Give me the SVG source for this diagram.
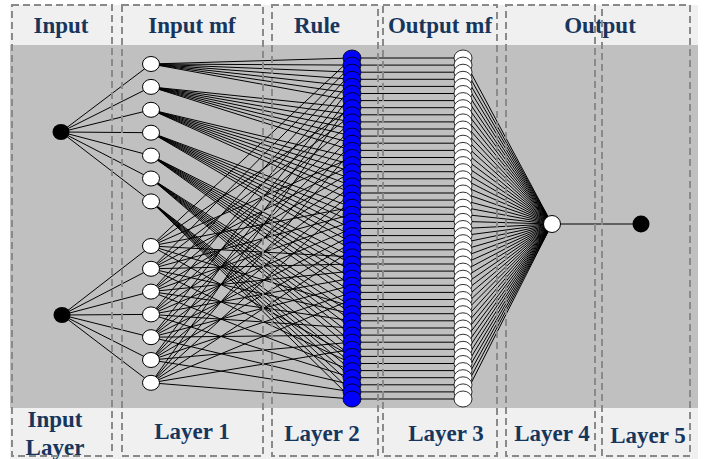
<svg xmlns="http://www.w3.org/2000/svg" width="706" height="459" viewBox="0 0 706 459">
<style>
.lbl{font-family:"Liberation Serif","Times New Roman",serif;font-weight:bold;font-size:23px;fill:#17365d;text-anchor:middle}
.box{fill:none;stroke:#8a8a8a;stroke-width:2;stroke-dasharray:7 4}
.cn{fill:none;stroke:#000;stroke-width:1}
.mf{fill:#fff;stroke:#000;stroke-width:1;rx:8.5px;ry:7.5px}
.rn{fill:#0000ff;stroke:#000;stroke-width:0.8;rx:9px;ry:8px}
.on{fill:#fff;stroke:#000;stroke-width:0.8;rx:9px;ry:8px}
.inp{fill:#000;rx:8.5px;ry:8px}
</style>
<rect x="10" y="5" width="688" height="454" fill="#f0f0f0"/>
<rect x="10" y="45" width="688" height="363" fill="#c0c0c0"/>
<g id="connectors" class="cn">
<path d="M61 132L151 64M61 132L151 86.9M61 132L151 109.8M61 132L151 132.7M61 132L151 155.6M61 132L151 178.5M61 132L151 201.4"/>
<path d="M62 315L151 246M62 315L151 268.8M62 315L151 291.6M62 315L151 314.4M62 315L151 337.2M62 315L151 360M62 315L151 382.8"/>
<path d="M151 64L352 58M151 64L352 65.1M151 64L352 72.2M151 64L352 79.3M151 64L352 86.4M151 64L352 93.5M151 64L352 100.6
M151 86.9L352 107.7M151 86.9L352 114.8M151 86.9L352 121.9M151 86.9L352 129M151 86.9L352 136.1M151 86.9L352 143.2M151 86.9L352 150.4
M151 109.8L352 157.5M151 109.8L352 164.6M151 109.8L352 171.7M151 109.8L352 178.8M151 109.8L352 185.9M151 109.8L352 193M151 109.8L352 200.1
M151 132.7L352 207.2M151 132.7L352 214.3M151 132.7L352 221.4M151 132.7L352 228.5M151 132.7L352 235.6M151 132.7L352 242.7M151 132.7L352 249.8
M151 155.6L352 256.9M151 155.6L352 264M151 155.6L352 271.1M151 155.6L352 278.2M151 155.6L352 285.3M151 155.6L352 292.4M151 155.6L352 299.5
M151 178.5L352 306.6M151 178.5L352 313.7M151 178.5L352 320.8M151 178.5L352 328M151 178.5L352 335.1M151 178.5L352 342.2M151 178.5L352 349.3
M151 201.4L352 356.4M151 201.4L352 363.5M151 201.4L352 370.6M151 201.4L352 377.7M151 201.4L352 384.8M151 201.4L352 391.9M151 201.4L352 399"/>
<path d="M151 246L352 58M151 246L352 107.7M151 246L352 157.5M151 246L352 207.2M151 246L352 256.9M151 246L352 306.6M151 246L352 356.4
M151 268.8L352 65.1M151 268.8L352 114.8M151 268.8L352 164.6M151 268.8L352 214.3M151 268.8L352 264M151 268.8L352 313.7M151 268.8L352 363.5
M151 291.6L352 72.2M151 291.6L352 121.9M151 291.6L352 171.7M151 291.6L352 221.4M151 291.6L352 271.1M151 291.6L352 320.8M151 291.6L352 370.6
M151 314.4L352 79.3M151 314.4L352 129M151 314.4L352 178.8M151 314.4L352 228.5M151 314.4L352 278.2M151 314.4L352 328M151 314.4L352 377.7
M151 337.2L352 86.4M151 337.2L352 136.1M151 337.2L352 185.9M151 337.2L352 235.6M151 337.2L352 285.3M151 337.2L352 335.1M151 337.2L352 384.8
M151 360L352 93.5M151 360L352 143.2M151 360L352 193M151 360L352 242.7M151 360L352 292.4M151 360L352 342.2M151 360L352 391.9
M151 382.8L352 100.6M151 382.8L352 150.4M151 382.8L352 200.1M151 382.8L352 249.8M151 382.8L352 299.5M151 382.8L352 349.3M151 382.8L352 399"/>
<path d="M352 58H463M352 65.1H463M352 72.2H463M352 79.3H463M352 86.4H463M352 93.5H463M352 100.6H463M352 107.7H463M352 114.8H463M352 121.9H463M352 129H463M352 136.1H463M352 143.2H463M352 150.4H463M352 157.5H463M352 164.6H463M352 171.7H463M352 178.8H463M352 185.9H463M352 193H463M352 200.1H463M352 207.2H463M352 214.3H463M352 221.4H463M352 228.5H463M352 235.6H463M352 242.7H463M352 249.8H463M352 256.9H463M352 264H463M352 271.1H463M352 278.2H463M352 285.3H463M352 292.4H463M352 299.5H463M352 306.6H463M352 313.7H463M352 320.8H463M352 328H463M352 335.1H463M352 342.2H463M352 349.3H463M352 356.4H463M352 363.5H463M352 370.6H463M352 377.7H463M352 384.8H463M352 391.9H463M352 399H463"/>
<path d="M463 58L552 224M463 65.1L552 224M463 72.2L552 224M463 79.3L552 224M463 86.4L552 224M463 93.5L552 224M463 100.6L552 224M463 107.7L552 224M463 114.8L552 224M463 121.9L552 224M463 129L552 224M463 136.1L552 224M463 143.2L552 224M463 150.4L552 224M463 157.5L552 224M463 164.6L552 224M463 171.7L552 224M463 178.8L552 224M463 185.9L552 224M463 193L552 224M463 200.1L552 224M463 207.2L552 224M463 214.3L552 224M463 221.4L552 224M463 228.5L552 224M463 235.6L552 224M463 242.7L552 224M463 249.8L552 224M463 256.9L552 224M463 264L552 224M463 271.1L552 224M463 278.2L552 224M463 285.3L552 224M463 292.4L552 224M463 299.5L552 224M463 306.6L552 224M463 313.7L552 224M463 320.8L552 224M463 328L552 224M463 335.1L552 224M463 342.2L552 224M463 349.3L552 224M463 356.4L552 224M463 363.5L552 224M463 370.6L552 224M463 377.7L552 224M463 384.8L552 224M463 391.9L552 224M463 399L552 224"/>
<path d="M552 224H641"/>
</g>
<g id="labels">
<text class="lbl" x="61" y="33">Input</text>
<text class="lbl" x="192" y="33">Input mf</text>
<text class="lbl" x="317" y="33">Rule</text>
<text class="lbl" x="440" y="33">Output mf</text>
<text class="lbl" x="600" y="33">Output</text>
<text class="lbl" x="55" y="427">Input</text>
<text class="lbl" x="55" y="455">Layer</text>
<text class="lbl" x="192" y="439">Layer 1</text>
<text class="lbl" x="322" y="441">Layer 2</text>
<text class="lbl" x="446" y="441">Layer 3</text>
<text class="lbl" x="552" y="441">Layer 4</text>
<text class="lbl" x="648" y="443">Layer 5</text>
</g>
<g id="columns">
<rect class="box" x="12" y="5" width="100" height="451"/>
<rect class="box" x="122" y="5" width="141" height="451"/>
<rect class="box" x="272" y="5" width="106" height="451"/>
<rect class="box" x="383" y="5" width="114" height="451"/>
<rect class="box" x="506" y="5" width="89" height="451"/>
<rect class="box" x="602" y="5" width="88" height="451"/>
</g>
<g id="in1"><ellipse class="inp" cx="61" cy="132"/></g>
<g id="in2"><ellipse class="inp" cx="62" cy="315"/></g>
<g id="mf1_1"><ellipse class="mf" cx="151" cy="64"/></g>
<g id="mf1_2"><ellipse class="mf" cx="151" cy="86.9"/></g>
<g id="mf1_3"><ellipse class="mf" cx="151" cy="109.8"/></g>
<g id="mf1_4"><ellipse class="mf" cx="151" cy="132.7"/></g>
<g id="mf1_5"><ellipse class="mf" cx="151" cy="155.6"/></g>
<g id="mf1_6"><ellipse class="mf" cx="151" cy="178.5"/></g>
<g id="mf1_7"><ellipse class="mf" cx="151" cy="201.4"/></g>
<g id="mf2_1"><ellipse class="mf" cx="151" cy="246"/></g>
<g id="mf2_2"><ellipse class="mf" cx="151" cy="268.8"/></g>
<g id="mf2_3"><ellipse class="mf" cx="151" cy="291.6"/></g>
<g id="mf2_4"><ellipse class="mf" cx="151" cy="314.4"/></g>
<g id="mf2_5"><ellipse class="mf" cx="151" cy="337.2"/></g>
<g id="mf2_6"><ellipse class="mf" cx="151" cy="360"/></g>
<g id="mf2_7"><ellipse class="mf" cx="151" cy="382.8"/></g>
<g id="rule1"><ellipse class="rn" cx="352" cy="58"/></g>
<g id="rule2"><ellipse class="rn" cx="352" cy="65.1"/></g>
<g id="rule3"><ellipse class="rn" cx="352" cy="72.2"/></g>
<g id="rule4"><ellipse class="rn" cx="352" cy="79.3"/></g>
<g id="rule5"><ellipse class="rn" cx="352" cy="86.4"/></g>
<g id="rule6"><ellipse class="rn" cx="352" cy="93.5"/></g>
<g id="rule7"><ellipse class="rn" cx="352" cy="100.6"/></g>
<g id="rule8"><ellipse class="rn" cx="352" cy="107.7"/></g>
<g id="rule9"><ellipse class="rn" cx="352" cy="114.8"/></g>
<g id="rule10"><ellipse class="rn" cx="352" cy="121.9"/></g>
<g id="rule11"><ellipse class="rn" cx="352" cy="129"/></g>
<g id="rule12"><ellipse class="rn" cx="352" cy="136.1"/></g>
<g id="rule13"><ellipse class="rn" cx="352" cy="143.2"/></g>
<g id="rule14"><ellipse class="rn" cx="352" cy="150.4"/></g>
<g id="rule15"><ellipse class="rn" cx="352" cy="157.5"/></g>
<g id="rule16"><ellipse class="rn" cx="352" cy="164.6"/></g>
<g id="rule17"><ellipse class="rn" cx="352" cy="171.7"/></g>
<g id="rule18"><ellipse class="rn" cx="352" cy="178.8"/></g>
<g id="rule19"><ellipse class="rn" cx="352" cy="185.9"/></g>
<g id="rule20"><ellipse class="rn" cx="352" cy="193"/></g>
<g id="rule21"><ellipse class="rn" cx="352" cy="200.1"/></g>
<g id="rule22"><ellipse class="rn" cx="352" cy="207.2"/></g>
<g id="rule23"><ellipse class="rn" cx="352" cy="214.3"/></g>
<g id="rule24"><ellipse class="rn" cx="352" cy="221.4"/></g>
<g id="rule25"><ellipse class="rn" cx="352" cy="228.5"/></g>
<g id="rule26"><ellipse class="rn" cx="352" cy="235.6"/></g>
<g id="rule27"><ellipse class="rn" cx="352" cy="242.7"/></g>
<g id="rule28"><ellipse class="rn" cx="352" cy="249.8"/></g>
<g id="rule29"><ellipse class="rn" cx="352" cy="256.9"/></g>
<g id="rule30"><ellipse class="rn" cx="352" cy="264"/></g>
<g id="rule31"><ellipse class="rn" cx="352" cy="271.1"/></g>
<g id="rule32"><ellipse class="rn" cx="352" cy="278.2"/></g>
<g id="rule33"><ellipse class="rn" cx="352" cy="285.3"/></g>
<g id="rule34"><ellipse class="rn" cx="352" cy="292.4"/></g>
<g id="rule35"><ellipse class="rn" cx="352" cy="299.5"/></g>
<g id="rule36"><ellipse class="rn" cx="352" cy="306.6"/></g>
<g id="rule37"><ellipse class="rn" cx="352" cy="313.7"/></g>
<g id="rule38"><ellipse class="rn" cx="352" cy="320.8"/></g>
<g id="rule39"><ellipse class="rn" cx="352" cy="328"/></g>
<g id="rule40"><ellipse class="rn" cx="352" cy="335.1"/></g>
<g id="rule41"><ellipse class="rn" cx="352" cy="342.2"/></g>
<g id="rule42"><ellipse class="rn" cx="352" cy="349.3"/></g>
<g id="rule43"><ellipse class="rn" cx="352" cy="356.4"/></g>
<g id="rule44"><ellipse class="rn" cx="352" cy="363.5"/></g>
<g id="rule45"><ellipse class="rn" cx="352" cy="370.6"/></g>
<g id="rule46"><ellipse class="rn" cx="352" cy="377.7"/></g>
<g id="rule47"><ellipse class="rn" cx="352" cy="384.8"/></g>
<g id="rule48"><ellipse class="rn" cx="352" cy="391.9"/></g>
<g id="rule49"><ellipse class="rn" cx="352" cy="399"/></g>
<g id="omf1"><ellipse class="on" cx="463" cy="58"/></g>
<g id="omf2"><ellipse class="on" cx="463" cy="65.1"/></g>
<g id="omf3"><ellipse class="on" cx="463" cy="72.2"/></g>
<g id="omf4"><ellipse class="on" cx="463" cy="79.3"/></g>
<g id="omf5"><ellipse class="on" cx="463" cy="86.4"/></g>
<g id="omf6"><ellipse class="on" cx="463" cy="93.5"/></g>
<g id="omf7"><ellipse class="on" cx="463" cy="100.6"/></g>
<g id="omf8"><ellipse class="on" cx="463" cy="107.7"/></g>
<g id="omf9"><ellipse class="on" cx="463" cy="114.8"/></g>
<g id="omf10"><ellipse class="on" cx="463" cy="121.9"/></g>
<g id="omf11"><ellipse class="on" cx="463" cy="129"/></g>
<g id="omf12"><ellipse class="on" cx="463" cy="136.1"/></g>
<g id="omf13"><ellipse class="on" cx="463" cy="143.2"/></g>
<g id="omf14"><ellipse class="on" cx="463" cy="150.4"/></g>
<g id="omf15"><ellipse class="on" cx="463" cy="157.5"/></g>
<g id="omf16"><ellipse class="on" cx="463" cy="164.6"/></g>
<g id="omf17"><ellipse class="on" cx="463" cy="171.7"/></g>
<g id="omf18"><ellipse class="on" cx="463" cy="178.8"/></g>
<g id="omf19"><ellipse class="on" cx="463" cy="185.9"/></g>
<g id="omf20"><ellipse class="on" cx="463" cy="193"/></g>
<g id="omf21"><ellipse class="on" cx="463" cy="200.1"/></g>
<g id="omf22"><ellipse class="on" cx="463" cy="207.2"/></g>
<g id="omf23"><ellipse class="on" cx="463" cy="214.3"/></g>
<g id="omf24"><ellipse class="on" cx="463" cy="221.4"/></g>
<g id="omf25"><ellipse class="on" cx="463" cy="228.5"/></g>
<g id="omf26"><ellipse class="on" cx="463" cy="235.6"/></g>
<g id="omf27"><ellipse class="on" cx="463" cy="242.7"/></g>
<g id="omf28"><ellipse class="on" cx="463" cy="249.8"/></g>
<g id="omf29"><ellipse class="on" cx="463" cy="256.9"/></g>
<g id="omf30"><ellipse class="on" cx="463" cy="264"/></g>
<g id="omf31"><ellipse class="on" cx="463" cy="271.1"/></g>
<g id="omf32"><ellipse class="on" cx="463" cy="278.2"/></g>
<g id="omf33"><ellipse class="on" cx="463" cy="285.3"/></g>
<g id="omf34"><ellipse class="on" cx="463" cy="292.4"/></g>
<g id="omf35"><ellipse class="on" cx="463" cy="299.5"/></g>
<g id="omf36"><ellipse class="on" cx="463" cy="306.6"/></g>
<g id="omf37"><ellipse class="on" cx="463" cy="313.7"/></g>
<g id="omf38"><ellipse class="on" cx="463" cy="320.8"/></g>
<g id="omf39"><ellipse class="on" cx="463" cy="328"/></g>
<g id="omf40"><ellipse class="on" cx="463" cy="335.1"/></g>
<g id="omf41"><ellipse class="on" cx="463" cy="342.2"/></g>
<g id="omf42"><ellipse class="on" cx="463" cy="349.3"/></g>
<g id="omf43"><ellipse class="on" cx="463" cy="356.4"/></g>
<g id="omf44"><ellipse class="on" cx="463" cy="363.5"/></g>
<g id="omf45"><ellipse class="on" cx="463" cy="370.6"/></g>
<g id="omf46"><ellipse class="on" cx="463" cy="377.7"/></g>
<g id="omf47"><ellipse class="on" cx="463" cy="384.8"/></g>
<g id="omf48"><ellipse class="on" cx="463" cy="391.9"/></g>
<g id="omf49"><ellipse class="on" cx="463" cy="399"/></g>
<g id="sum"><circle cx="552" cy="224" r="8.5" fill="#fff" stroke="#000" stroke-width="1"/></g>
<g id="out"><circle cx="641" cy="224" r="8.5" fill="#000"/></g>
</svg>
